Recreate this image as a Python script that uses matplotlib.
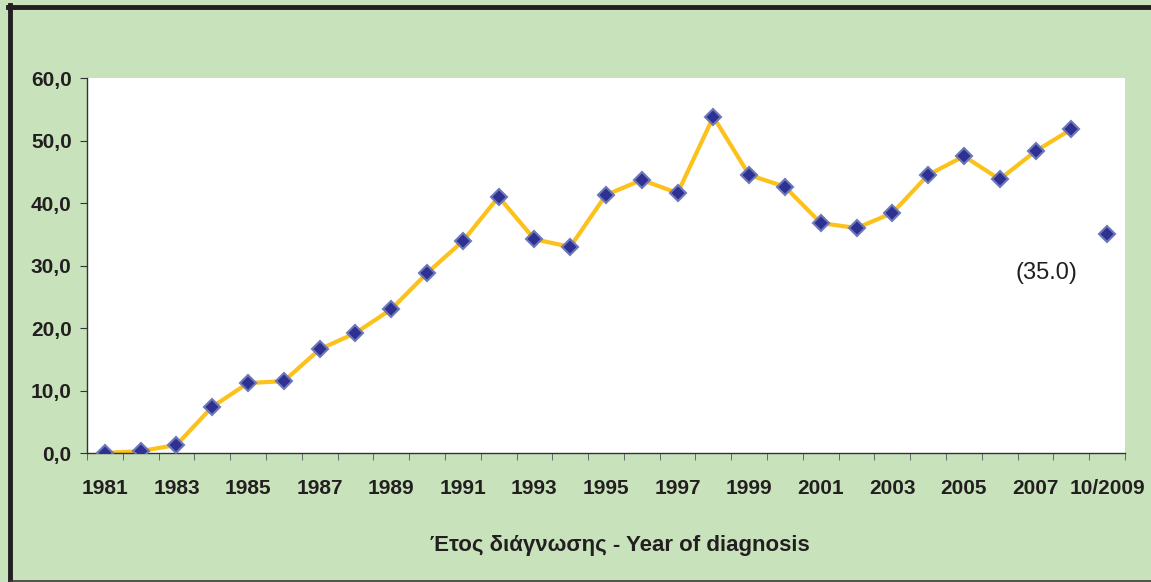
import matplotlib.pyplot as plt
from matplotlib.lines import Line2D
from matplotlib.ticker import FuncFormatter

years = [str(y) for y in range(1981, 2009)] + ['10/2009']
rates = [0.0, 0.3, 1.3, 7.4, 11.2, 11.5, 16.6, 19.2, 23.0, 28.8,
         33.9, 41.0, 34.2, 33.0, 41.3, 43.7, 41.6, 53.8, 44.5, 42.6,
         36.8, 36.0, 38.4, 44.5, 47.5, 43.8, 48.3, 51.8]
last_rate = 35.0

green = '#c8e3bc'
plt.rcParams['font.family'] = ['Liberation Sans', 'DejaVu Sans']

fig = plt.figure(figsize=(11.51, 5.82), dpi=100, facecolor=green)
ax = fig.add_axes([0.0756, 0.2216, 0.9018, 0.6443])
ax.set_facecolor('white')

x = list(range(len(years)))
ax.plot(x[:-1], rates, color='#fcc11a', lw=3, zorder=2)
mk = dict(marker='D', ms=8, mfc='#2e3192', mec='#6d78b8', mew=1.5, ls='none', zorder=3)
ax.plot(x[:-1], rates, **mk)
ax.plot([x[-1]], [last_rate], **mk)
ax.text(26.3, 28.8, '(%.1f)' % last_rate, fontsize=17, color='#231f20',
        ha='center', va='center')

ax.set_xlim(-0.5, len(years) - 0.5)
ax.set_ylim(0, 60)
ax.set_yticks(range(0, 61, 10))
ax.yaxis.set_major_formatter(FuncFormatter(lambda v, p: ('%.1f' % v).replace('.', ',')))

ax.set_xticks(x[::2])
ax.set_xticklabels(years[::2])
ax.set_xticks([i - 0.5 for i in range(len(years) + 1)], minor=True)
ax.tick_params(axis='x', which='major', length=0, pad=19)
ax.tick_params(axis='x', which='minor', length=5, color='#555555', direction='out')
ax.tick_params(axis='y', length=5, color='#333333', pad=6)
for lab in ax.get_xticklabels() + ax.get_yticklabels():
    lab.set_fontsize(15)
    lab.set_fontweight('bold')
    lab.set_color('#231f20')

for s in ['top', 'right']:
    ax.spines[s].set_visible(False)
for s in ['left', 'bottom']:
    ax.spines[s].set_color('#333333')
    ax.spines[s].set_linewidth(1)

ax.set_xlabel('Έτος διάγνωσης - Year of diagnosis', fontsize=16, fontweight='bold',
              color='#231f20', labelpad=26, x=0.513)

# outer frame
W, H = 1151, 582
fig.add_artist(Line2D([8 / W, 1], [1 - 7 / H, 1 - 7 / H], color='#231f20', lw=3.5))
fig.add_artist(Line2D([10 / W, 10 / W], [0, 1 - 5 / H], color='#231f20', lw=3.5))
fig.add_artist(Line2D([10 / W, 1], [1.5 / H, 1.5 / H], color='#3a3a3a', lw=1.2))

fig.savefig('out.png', dpi=100, facecolor=green)
